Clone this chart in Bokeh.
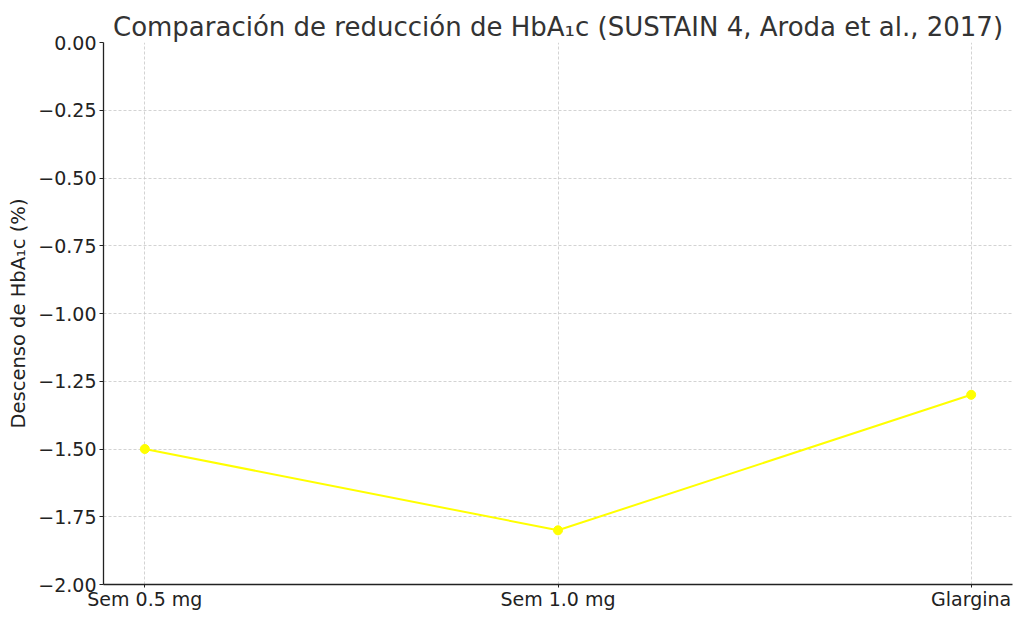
from bokeh.plotting import figure
from bokeh.models import Range1d, FixedTicker, ColumnDataSource
from bokeh.embed import file_html
from bokeh.resources import INLINE

categories = ["Sem 0.5 mg", "Sem 1.0 mg", "Glargina"]
hba1c_change = [-1.5, -1.8, -1.3]
y_ticks = [0.0, -0.25, -0.5, -0.75, -1.0, -1.25, -1.5, -1.75, -2.0]

x_idx = list(range(len(categories)))
src = ColumnDataSource(dict(x=x_idx, y=hba1c_change, cat=categories))

FONT = "DejaVu Sans"
p = figure(width=1016, height=613, output_backend="svg", toolbar_location=None,
           x_range=Range1d(-0.1, len(categories) - 1 + 0.1), y_range=Range1d(-2.0, 0.0),
           title="Comparación de reducción de HbA₁c (SUSTAIN 4, Aroda et al., 2017)",
           min_border_left=103, min_border_right=4, min_border_top=42, min_border_bottom=29)
p.outline_line_color = None
p.background_fill_color = "white"
p.border_fill_color = "white"

p.title.text_font = FONT
p.title.text_font_size = "26px"
p.title.text_font_style = "normal"
p.title.text_color = "#333333"
p.title.align = "center"
p.title.standoff = 2

p.line("x", "y", source=src, line_color="#ffff00", line_width=2)
p.scatter("x", "y", source=src, size=9, fill_color="#ffff00", line_color="#ffff00")

p.xaxis.ticker = FixedTicker(ticks=x_idx)
p.xaxis.major_label_overrides = {i: c for i, c in zip(x_idx, categories)}
p.yaxis.ticker = FixedTicker(ticks=y_ticks)
p.yaxis.major_label_overrides = {t: ("%.2f" % t).replace("-", "\u2212") for t in y_ticks}
p.yaxis.axis_label = "Descenso de HbA₁c (%)"

for ax in (p.xaxis, p.yaxis):
    ax.axis_line_color = "#222222"
    ax.axis_line_width = 1.3
    ax.major_tick_line_color = "#222222"
    ax.major_tick_in = 0
    ax.major_tick_out = 4
    ax.minor_tick_line_color = None
    ax.major_label_text_font = FONT
    ax.major_label_text_font_size = "19px"
    ax.major_label_text_color = "#222222"
    ax.axis_label_text_font = FONT
    ax.axis_label_text_font_size = "19.5px"
    ax.axis_label_text_font_style = "normal"
    ax.axis_label_text_color = "#222222"
p.xaxis.major_tick_out = 3
p.xaxis.major_label_standoff = 0
p.yaxis.major_label_standoff = 3
p.yaxis.axis_label_standoff = 5

for g in (p.xgrid, p.ygrid):
    g.grid_line_color = "#c8c8c8"
    g.grid_line_dash = "3 2"
    g.grid_line_width = 0.8

open("out.html", "w").write(file_html(p, INLINE))
